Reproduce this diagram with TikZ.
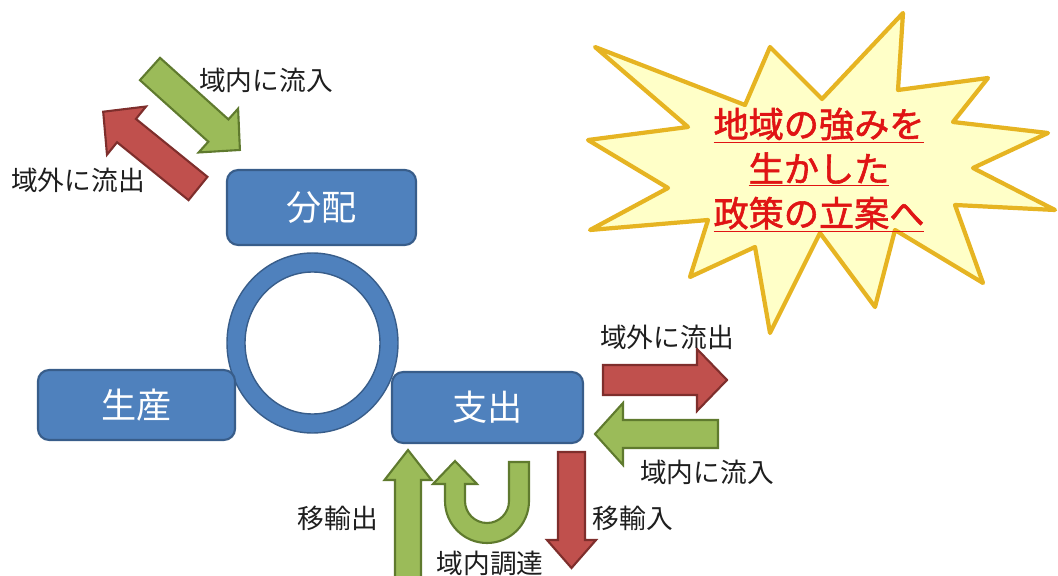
\documentclass[tikz,border=0pt]{standalone}
\usepackage{fontspec}
\newfontfamily\cjk{Noto Sans CJK JP}
\newfontfamily\cjkb[FakeBold=1.6]{Noto Sans CJK JP}
\definecolor{boxfill}{HTML}{4F81BD}
\definecolor{boxline}{HTML}{385D8A}
\definecolor{gfill}{HTML}{9BBB59}
\definecolor{gline}{HTML}{5F7A2E}
\definecolor{rfill}{HTML}{C0504D}
\definecolor{rline}{HTML}{7E2E2C}
\definecolor{starfill}{HTML}{FFFFC8}
\definecolor{starline}{HTML}{E6B422}
\definecolor{startext}{HTML}{E01414}
\definecolor{lbltext}{HTML}{1E1E1E}
\newcommand\barrow[8]{\draw[#1,shift={(#2,#3)},rotate=#4] (0,-#6) -- ({#5-#8},-#6) -- ({#5-#8},-#7) -- (#5,0) -- ({#5-#8},#7) -- ({#5-#8},#6) -- (0,#6) -- cycle;}
\tikzset{
  box/.style={draw=boxline, fill=boxfill, line width=1.5pt, rounded corners=0.28cm, text=white, font=\cjk\fontsize{25}{25}\selectfont, inner sep=0pt},
  lbl/.style={text=lbltext, font=\cjk\fontsize{19}{19}\selectfont, inner sep=0pt},
  garrow/.style={fill=gfill, draw=gline, line width=1.5pt, line join=miter},
  rarrow/.style={fill=rfill, draw=rline, line width=1.5pt, line join=miter},
  starshape/.style={fill=starfill, draw=starline, line width=3pt, line join=round},
  startxt/.style={text=startext, font=\cjkb\fontsize{25}{31.7}\selectfont, align=center, inner sep=0pt},
  ring/.style={fill=boxfill, draw=boxline, line width=1pt, even odd rule}
}
\begin{document}
\begin{tikzpicture}[x=0.025cm,y=-0.025cm]
\useasboundingbox (0,0) rectangle (1058,576);
% ring
\draw[ring] (312.5,343) ellipse [x radius=85.5, y radius=90] (312.5,343) ellipse [x radius=67.5, y radius=71];
\coordinate (ringc) at (312.5,343);
% boxes
\node[box, minimum width=4.725cm, minimum height=1.875cm] (haibun) at (321.5,207.5) {分配};
\node[box, minimum width=4.925cm, minimum height=1.75cm] (seisan) at (136.5,405) {生産};
\node[box, minimum width=4.775cm, minimum height=1.775cm] (shishutsu) at (487.5,407.5) {支出};
% top-left arrows
\barrow{garrow}{150}{69}{-42}{121}{15}{29.5}{29}
\barrow{rarrow}{198}{188.5}{141}{122}{15}{31}{30}
% right arrows
\barrow{rarrow}{603}{380}{0}{124}{15}{31}{30}
\barrow{garrow}{718}{434}{180}{123}{14}{31}{28}
% bottom arrows
\barrow{garrow}{408}{590}{90}{140}{13}{23.5}{30}
\barrow{rarrow}{571.5}{452}{-90}{116}{13.5}{24.5}{28}
% U-turn arrow
\draw[garrow] (529,462) -- (509,462) -- (509,501) arc[start angle=0, end angle=180, radius=22]
  -- (465,484) -- (477,484) -- (455,461) -- (433,484) -- (445,484) -- (445,501)
  arc[start angle=180, end angle=0, radius=42] -- cycle;
% labels
\node[lbl] (l1) at (266,80) {域内に流入};
\node[lbl] (l2) at (78,180) {域外に流出};
\node[lbl] (l3) at (667,337) {域外に流出};
\node[lbl] (l4) at (707,472) {域内に流入};
\node[lbl] (l5) at (338,518) {移輸出};
\node[lbl] (l6) at (490,563) {域内調達};
\node[lbl] (l7) at (633,518) {移輸入};
% star
\draw[starshape] (595,47) -- (745,105) -- (770,47) -- (822,99) -- (903,13) -- (898,90) -- (988,78)
  -- (953,122) -- (1048,133) -- (973,168) -- (1055,210) -- (955,205) -- (983,283) -- (895,230)
  -- (875,307) -- (820,233) -- (770,333) -- (755,247) -- (690,277) -- (708,220) -- (590,230)
  -- (668,188) -- (588,140) -- (688,127) -- cycle;
\node[startxt] (star) at (819,170) {\underline{地域の強みを}\\\underline{生かした}\\\underline{政策の立案へ}};
\end{tikzpicture}
\end{document}
